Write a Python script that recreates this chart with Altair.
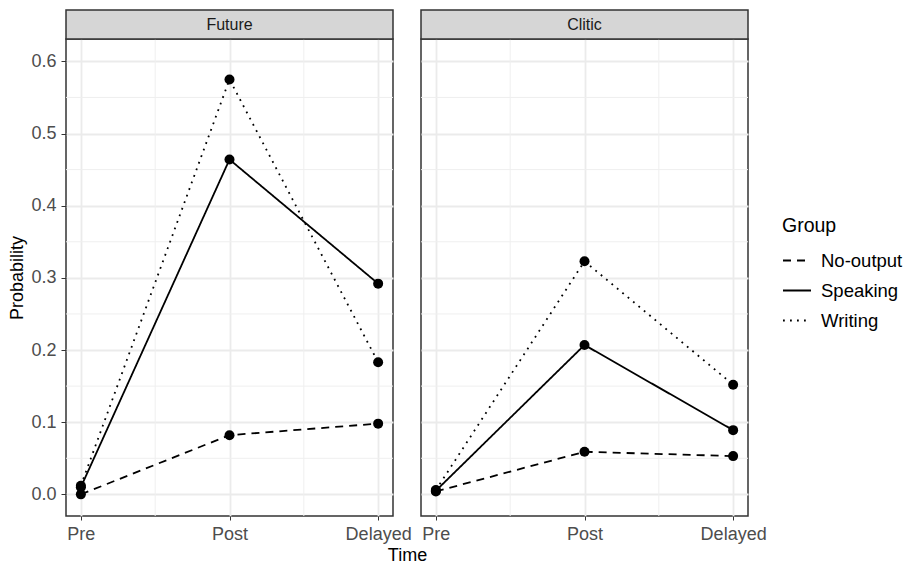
import altair as alt
import pandas as pd

# ---- data ----
times = ["Pre", "Post", "Delayed"]
groups = ["No-output", "Speaking", "Writing"]
panels = ["Future", "Clitic"]

future_no_output = [0.000, 0.082, 0.098]
future_speaking = [0.010, 0.464, 0.292]
future_writing = [0.012, 0.575, 0.183]

clitic_no_output = [0.004, 0.059, 0.053]
clitic_speaking = [0.005, 0.207, 0.089]
clitic_writing = [0.006, 0.323, 0.152]

y_major = [0.0, 0.1, 0.2, 0.3, 0.4, 0.5, 0.6]
y_minor = [0.05, 0.15, 0.25, 0.35, 0.45, 0.55]
x_minor = [1.5, 2.5]

values = {
    "Future": {"No-output": future_no_output, "Speaking": future_speaking, "Writing": future_writing},
    "Clitic": {"No-output": clitic_no_output, "Speaking": clitic_speaking, "Writing": clitic_writing},
}

W, H = 327, 477
STRIP = 29
FONT = "Liberation Sans"

label_expr = "[" + ",".join("'" + t + "'" for t in times) + "][datum.value - 1]"


def make_df(panel):
    rows = []
    for g in groups:
        for i, t in enumerate(times):
            rows.append({"t": i + 1, "Time": t, "Group": g, "p": values[panel][g][i]})
    return pd.DataFrame(rows)


def panel_chart(name, first):
    df = make_df(name)
    if first:
        xaxis = alt.Axis(values=[1, 2, 3], labelExpr=label_expr, title="Time",
                         titleX=341, titleY=44, titleBaseline="alphabetic", titleAlign="center",
                         grid=True, domain=False, tickSize=4, labelPadding=5)
        yaxis = alt.Axis(values=y_major, format=".1f", title="Probability", grid=True,
                         domain=False, tickSize=5, labelPadding=5, titlePadding=4)
    else:
        xaxis = alt.Axis(values=[1, 2, 3], labelExpr=label_expr, title="",
                         grid=True, domain=False, tickSize=4, labelPadding=5)
        yaxis = alt.Axis(values=y_major, labels=False, ticks=False, domain=False, title="", grid=True)

    xs = alt.Scale(domain=[0.9, 3.1], nice=False, zero=False)
    ys = alt.Scale(domain=[-0.03, 0.631], nice=False, zero=False)

    minor_h = alt.Chart(pd.DataFrame({"p": y_minor})).mark_rule(
        color="#efefef", strokeWidth=1).encode(y=alt.Y("p:Q"))
    minor_v = alt.Chart(pd.DataFrame({"t": x_minor})).mark_rule(
        color="#efefef", strokeWidth=1).encode(x=alt.X("t:Q"))

    lines = alt.Chart(df).mark_line(color="black", strokeWidth=1.8).encode(
        x=alt.X("t:Q", scale=xs, axis=xaxis),
        y=alt.Y("p:Q", scale=ys, axis=yaxis),
        strokeDash=alt.StrokeDash(
            "Group:N",
            scale=alt.Scale(domain=groups, range=[[8, 6], [1, 0], [1.8, 5.2]]),
            legend=alt.Legend(title="Group", orient="none", legendX=716, legendY=178,
                              symbolType="stroke", symbolSize=784, symbolStrokeWidth=1.8,
                              symbolStrokeColor="black", rowPadding=5,
                              labelFontSize=18.5, titleFontSize=19.5, titleFontWeight="normal",
                              labelColor="black", titleColor="black", labelFont=FONT, titleFont=FONT,
                              titlePadding=9, labelOffset=9),
        ),
        order=alt.Order("t:Q"),
    )
    points = alt.Chart(df).mark_circle(size=100, color="black", opacity=1).encode(
        x=alt.X("t:Q"), y=alt.Y("p:Q"))

    strip_df = pd.DataFrame({"label": [name]})
    strip = alt.Chart(strip_df).mark_rect(fill="#d6d6d6", stroke="#333333", strokeWidth=1.5).encode(
        x=alt.value(0), x2=alt.value(W), y=alt.value(-STRIP), y2=alt.value(0))
    strip_text = alt.Chart(strip_df).mark_text(font=FONT, fontSize=16, color="#1a1a1a", baseline="middle").encode(
        x=alt.value(W / 2), y=alt.value(-STRIP / 2), text="label:N")

    return alt.layer(minor_h, minor_v, lines, points, strip, strip_text).properties(width=W, height=H)


left = panel_chart(panels[0], True)
right = panel_chart(panels[1], False)

chart = alt.hconcat(left, right, spacing=28, bounds="flush").properties(
    padding=0
).configure_view(
    stroke="#333333", strokeWidth=1.5
).configure_axis(
    labelFont=FONT, titleFont=FONT, labelFontSize=18, titleFontSize=18,
    labelColor="#4d4d4d", titleColor="black", titleFontWeight="normal",
    tickColor="#333333", gridColor="#ebebeb", gridWidth=1.8,
)

chart.save("out.html", embed_options={"renderer": "svg", "actions": False})
